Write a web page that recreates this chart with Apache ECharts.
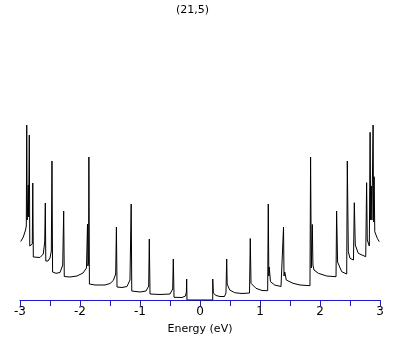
<!DOCTYPE html>
<html>
<head>
<meta charset="utf-8">
<script src="https://cdn.jsdelivr.net/npm/echarts@6/dist/echarts.min.js"></script>
<style>html,body{margin:0;padding:0;background:#fff;}#c{width:409px;height:345px;}</style>
</head>
<body>
<div id="c"></div>
<script>
var titleText = "(21,5)";
var xAxisName = "Energy (eV)";
var xTicks = [-3, -2, -1, 0, 1, 2, 3];

// energy (eV)
var energy = [
 -2.988,-2.945,-2.908,-2.895,-2.888,-2.880,-2.867,-2.862,-2.857,-2.848,-2.845,-2.837,-2.817,-2.795,-2.787,-2.778,
 -2.750,-2.667,-2.612,-2.588,-2.578,-2.570,-2.533,-2.500,-2.478,-2.467,-2.457,-2.400,-2.333,-2.288,-2.272,-2.262,
 -2.167,-2.050,-1.950,-1.892,-1.875,-1.868,-1.857,-1.852,-1.843,-1.750,-1.583,-1.500,-1.445,-1.405,-1.393,-1.383,
 -1.300,-1.217,-1.167,-1.147,-1.137,-1.000,-0.900,-0.855,-0.845,-0.833,-0.667,-0.500,-0.455,-0.445,-0.433,-0.300,
 -0.242,-0.227,-0.222,-0.217,
 0.212,0.212,0.222,0.267,0.333,0.408,0.433,0.445,0.453,0.495,0.578,0.700,0.825,0.838,0.850,0.933,1.033,1.128,1.138,
 1.147,1.153,1.175,1.245,1.350,1.383,1.392,1.400,1.413,1.438,1.550,1.667,1.833,1.843,1.855,1.872,1.882,1.900,1.972,
 2.112,2.267,2.277,2.293,2.362,2.445,2.455,2.472,2.500,2.558,2.572,2.588,2.638,2.762,2.777,2.788,2.822,2.835,2.845,
 2.855,2.865,2.875,2.885,2.893,2.902,2.913,2.955,2.988
];
// density of states (arbitrary units)
var dos = [
 58.5,63,70,74,175,80,82,115,83,85,165,54,53,56,117,43,
 42.5,42.5,46,58,97,39,39,42,49,139,28,26.7,27.5,35,89,23.5,
 23,24,27,32,76,34,38,143,16,15,15,16.5,19.5,26,73,13,
 12.5,13.5,20,96,9,8,9,14,61,6,5.5,6,11,41,2.7,2.5,
 4,8,21,0,
 0,21,7,4.5,3.5,3.5,7,41,16,10,7.3,6.5,7,61.5,16.7,11.7,9.5,9.3,96,
 24,33,18.3,15,13.5,14,73,24,28,20,16.7,15,14.3,143,32,75.5,35,30,26.7,
 24,23.3,89,38,28.3,26,139,48.3,41.7,40,97.3,55,46.7,43.3,117.3,60,54,167.7,80,
 114,80,82,175,78,123.3,68.3,61.7,58.3
];

var pts = energy.map(function(e, i){ return [e, dos[i]]; });

var chart = echarts.init(document.getElementById('c'), null, {renderer:'canvas'});
chart.setOption({
  animation: false,
  backgroundColor: '#ffffff',
  title: {
    text: titleText, left: 171, top: 0,
    textStyle: {fontSize: 11, fontWeight: 'normal', color: '#000', fontFamily: 'DejaVu Sans'}
  },
  grid: {left: 20, right: 29, top: 0, bottom: 45},
  xAxis: {
    type: 'value', min: -3, max: 3, interval: 0.5,
    name: xAxisName, nameLocation: 'middle', nameGap: 24,
    nameTextStyle: {fontSize: 11, color: '#000', fontFamily: 'DejaVu Sans'},
    axisLine: {show: true, onZero: false, lineStyle: {color: '#1a1ad0', width: 1}},
    axisTick: {show: true, length: 6, lineStyle: {color: '#1a1ad0', width: 1}},
    axisLabel: {
      margin: 6, fontSize: 12, color: '#000', fontFamily: 'DejaVu Sans',
      formatter: function(v){ return xTicks.indexOf(v) >= 0 ? String(v) : ''; }
    },
    splitLine: {show: false}
  },
  yAxis: {
    type: 'value', min: 0, max: 300, show: false,
    splitLine: {show: false}
  },
  series: [{
    type: 'line', data: pts, showSymbol: false, symbol: 'none',
    lineStyle: {color: '#000', width: 1}, z: 5
  }]
});
</script>
</body>
</html>
